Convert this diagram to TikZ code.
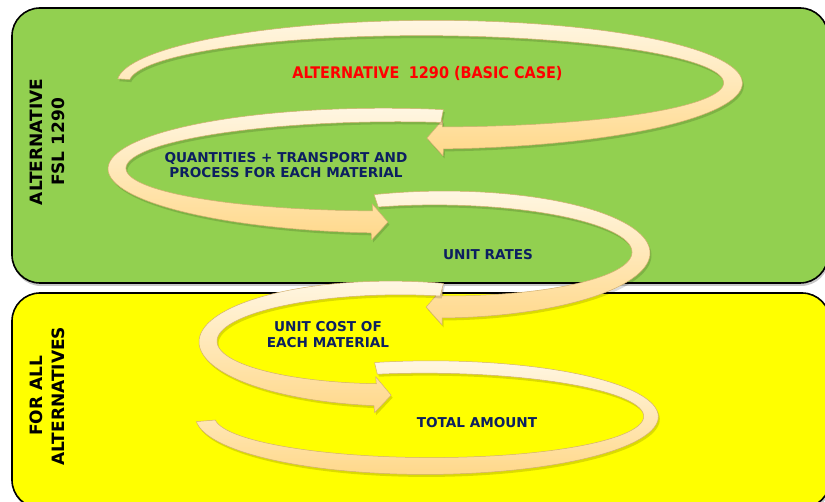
\documentclass[tikz,border=0pt]{standalone}
\usepackage{fontspec}
\newfontfamily\djv{DejaVu Sans}
\newfontfamily\djvc{DejaVu Sans}[FakeStretch=0.9]
\definecolor{boxgreen}{HTML}{92D050}
\definecolor{boxyellow}{HTML}{FFFF00}
\definecolor{navy}{HTML}{0C1F60}
\definecolor{arrowlight}{HTML}{FFF6E2}
\definecolor{arrowdark}{HTML}{FFD88A}
\definecolor{arrowedge}{HTML}{D2B070}

\newcommand\ribdraw[1]{%
  \path[#1] plot[domain=\rta:\rtb, samples=120, variable=\t]
    ({\rcx+(\rrx+(\rwa+(\rwb-\rwa)*(\t-\rta)/(\rtb-\rta))/2)*cos(\t)},
     {\rcy+(\rry+(\rwa+(\rwb-\rwa)*(\t-\rta)/(\rtb-\rta))/2)*sin(\t)})
    -- (\pox,\poy) -- (\ptx,\pty) -- (\pix,\piy)
    -- plot[domain=\rtb:\rta, samples=120, variable=\t]
    ({\rcx+(\rrx-(\rwa+(\rwb-\rwa)*(\t-\rta)/(\rtb-\rta))/2)*cos(\t)},
     {\rcy+(\rry-(\rwa+(\rwb-\rwa)*(\t-\rta)/(\rtb-\rta))/2)*sin(\t)})
    -- cycle;}

% #1 head length (0 = none), #2 cx, #3 cy, #4 rx, #5 ry, #6 t0, #7 t1, #8 w0, #9 w1
\newcommand\ribbon[9]{%
  \def\rcx{#2}\def\rcy{#3}\def\rrx{#4}\def\rry{#5}%
  \def\rta{#6}\def\rtb{#7}\def\rwa{#8}\def\rwb{#9}%
  \pgfmathsetmacro\rca{cos(#7)}%
  \pgfmathsetmacro\rsa{sin(#7)}%
  \pgfmathsetmacro\rbx{#2+#4*(\rca)}%
  \pgfmathsetmacro\rby{#3+#5*(\rsa)}%
  \pgfmathsetmacro\rsg{(#7>#6)?1:-1}%
  \pgfmathsetmacro\rdx{0-(\rsg)*#4*(\rsa)}%
  \pgfmathsetmacro\rdy{(\rsg)*#5*(\rca)}%
  \pgfmathsetmacro\rdn{veclen(\rdx,\rdy)}%
  \pgfmathsetmacro\rux{(\rdx)/(\rdn)}%
  \pgfmathsetmacro\ruy{(\rdy)/(\rdn)}%
  \pgfmathsetmacro\rnx{0-(\ruy)}%
  \pgfmathsetmacro\rny{(\rux)}%
  \pgfmathsetmacro\rdot{(\rnx)*(\rca)+(\rny)*(\rsa)}%
  \pgfmathsetmacro\rfl{(\rdot<0)?-1:1}%
  \pgfmathsetmacro\rnx{(\rnx)*(\rfl)}%
  \pgfmathsetmacro\rny{(\rny)*(\rfl)}%
  \pgfmathsetmacro\rH{(#1>0)?18:0}%
  \pgfmathsetmacro\pox{\rbx+(\rH)*(\rnx)}%
  \pgfmathsetmacro\poy{\rby+(\rH)*(\rny)}%
  \pgfmathsetmacro\pix{\rbx-(\rH)*(\rnx)}%
  \pgfmathsetmacro\piy{\rby-(\rH)*(\rny)}%
  \pgfmathsetmacro\ptx{\rbx+#1*(\rux)}%
  \pgfmathsetmacro\pty{\rby+#1*(\ruy)}%
  \ribdraw{ribshadow}%
  \ribdraw{ribbody}%
}

\begin{document}
\begin{tikzpicture}[x=1pt,y=-1pt,
  ribshadow/.style={fill=black, opacity=.14, shift={(1.5,2.5)}},
  ribbody/.style={draw=arrowedge, line width=.5pt, top color=arrowlight,
    bottom color=arrowdark, line join=round},
  boxframe/.style={draw=black, line width=1.6pt, rounded corners=28pt},
  boxshadow/.style={fill=black, opacity=.22, rounded corners=28pt},
  sidelab/.style={font=\djv\bfseries\fontsize{17}{22}\selectfont, align=center,
    inner sep=0pt, rotate=90},
  navylab/.style={font=\djv\bfseries\fontsize{13.6}{15.2}\selectfont, text=navy,
    align=center, inner sep=0pt},
  redlab/.style={font=\djvc\bfseries\fontsize{16}{19}\selectfont, text=red,
    inner sep=0pt}]
\useasboundingbox (0,0) rectangle (825,502);
\fill[white] (0,0) rectangle (825,502);
% boxes
\fill[boxshadow] (13,11) rectangle (829,286);
\path[boxframe, fill=boxgreen] (12,8) rectangle (828,283);
\fill[boxshadow] (13,296) rectangle (831,511);
\path[boxframe, fill=boxyellow] (12,293) rectangle (830,508);
% curved arrows
\ribbon{16}{428}{83}{305}{55}{184}{447.2}{12}{22}
\ribbon{16}{390}{168.5}{273}{53.5}{281}{93.8}{13}{22}
\ribbon{16}{440}{252.5}{201}{54.5}{251.5}{449.4}{13}{22}
\ribbon{16}{395}{341.5}{187}{53.5}{284.5}{96.1}{13}{22}
\ribbon{0}{428}{416.5}{223}{49.5}{256.5}{535}{12}{19}
% labels
\node[sidelab] (side1) at (47,142) {ALTERNATIVE\\FSL 1290};
\node[sidelab] (side2) at (47,396) {FOR ALL\\ALTERNATIVES};
\node[redlab, anchor=base] (basic) at (427.5,78.3) {ALTERNATIVE\hspace{.6em}1290 (BASIC CASE)};
\node[navylab] (qty) at (286,165) {QUANTITIES + TRANSPORT AND\\PROCESS FOR EACH MATERIAL};
\node[navylab, anchor=base] (rates) at (488,260) {UNIT RATES};
\node[navylab] (cost) at (328,334.5) {UNIT COST OF\\EACH MATERIAL};
\node[navylab, anchor=base] (total) at (477,428) {TOTAL AMOUNT};
\end{tikzpicture}
\end{document}
